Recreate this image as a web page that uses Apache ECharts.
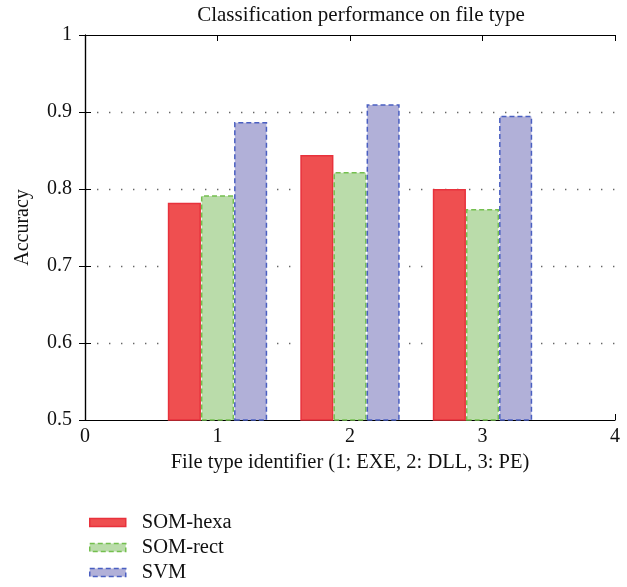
<!DOCTYPE html>
<html>
<head>
<meta charset="utf-8">
<script src="https://cdn.jsdelivr.net/npm/echarts@6/dist/echarts.min.js"></script>
<style>
  html, body { margin: 0; padding: 0; background: #fff; }
  #chart { width: 627px; height: 587px; }
</style>
</head>
<body>
<div id="chart"></div>
<script>
// File type identifiers (1: EXE, 2: DLL, 3: PE)
const fileTypes = [1, 2, 3];
const seriesNames = ['SOM-hexa', 'SOM-rect', 'SVM'];
const somHexa = [0.782, 0.844, 0.800];
const somRect = [0.792, 0.822, 0.774];
const svm = [0.887, 0.910, 0.895];
const xTicks = [0, 1, 2, 3, 4];
const yTicks = [0.5, 0.6, 0.7, 0.8, 0.9, 1];

const FONT = '"Liberation Serif", "DejaVu Serif", serif';

const styles = [
  { color: '#ef4f50', borderColor: '#e8323c', borderType: 'solid' },
  { color: '#badcaa', borderColor: '#74bf4f', borderType: [5, 3] },
  { color: '#b1b0d8', borderColor: '#4a5fc1', borderType: [5, 3] }
];

const values = [somHexa, somRect, svm];

const series = seriesNames.map((name, i) => ({
  name: name,
  type: 'bar',
  barWidth: '25%',
  barGap: '0%',
  data: fileTypes.map((x, j) => [x, values[i][j]]),
  itemStyle: {
    color: styles[i].color,
    borderColor: styles[i].borderColor,
    borderWidth: 1.5,
    borderType: styles[i].borderType
  },
  emphasis: { disabled: true },
  z: 3
}));

const legendData = seriesNames.map((name, i) => ({
  name: name,
  itemStyle: {
    color: styles[i].color,
    borderColor: styles[i].borderColor,
    borderWidth: 1.5,
    borderType: styles[i].borderType
  }
}));

const chart = echarts.init(document.getElementById('chart'), null, { renderer: 'canvas' });

const xCommon = {
  type: 'value',
  min: xTicks[0],
  max: xTicks[xTicks.length - 1],
  interval: 1,
  axisLine: { show: true, lineStyle: { color: '#000', width: 1.2 } },
  axisTick: { show: true, inside: true, length: 6, lineStyle: { color: '#000' } },
  splitLine: { show: false }
};
const yCommon = {
  type: 'value',
  min: yTicks[0],
  max: yTicks[yTicks.length - 1],
  interval: 0.1,
  axisLine: { show: true, lineStyle: { color: '#000', width: 1.2 } },
  axisTick: { show: true, inside: true, length: 6, lineStyle: { color: '#000' } }
};

chart.setOption({
  animation: false,
  backgroundColor: '#fff',
  title: {
    text: 'Classification performance on file type',
    left: 356,
    textAlign: 'center',
    top: 0,
    textStyle: { fontFamily: FONT, fontSize: 21, fontWeight: 'normal', color: '#111' }
  },
  grid: { left: 85, right: 12, top: 35, bottom: 167, containLabel: false },
  legend: {
    orient: 'vertical',
    left: 89,
    top: 512,
    padding: 0,
    itemWidth: 36,
    itemHeight: 8,
    itemGap: 4,
    icon: 'rect',
    textStyle: { fontFamily: FONT, fontSize: 20.5, lineHeight: 20.5, color: '#111', padding: [0, 0, 0, 11] },
    data: legendData
  },
  xAxis: [
    Object.assign({}, xCommon, {
      position: 'bottom',
      name: 'File type identifier (1: EXE, 2: DLL, 3: PE)',
      nameLocation: 'middle',
      nameGap: 32,
      nameTextStyle: { fontFamily: FONT, fontSize: 20.5, color: '#111' },
      axisLabel: { show: true, fontFamily: FONT, fontSize: 20, color: '#111', margin: 7,
        formatter: v => String(v) }
    }),
    Object.assign({}, xCommon, {
      position: 'top',
      axisLabel: { show: false }
    })
  ],
  yAxis: [
    Object.assign({}, yCommon, {
      position: 'left',
      name: 'Accuracy',
      nameLocation: 'middle',
      nameGap: 52,
      nameRotate: 90,
      nameTextStyle: { fontFamily: FONT, fontSize: 20, color: '#111' },
      axisLabel: { show: true, fontFamily: FONT, fontSize: 20, color: '#111', margin: 13,
        formatter: v => String(Math.round(v * 10) / 10) },
      splitLine: {
        show: true,
        showMinLine: false,
        showMaxLine: false,
        lineStyle: { color: '#666', width: 1.4, type: [1.4, 10.6] }
      }
    }),
    Object.assign({}, yCommon, {
      position: 'right',
      axisLabel: { show: false },
      splitLine: { show: false }
    })
  ],
  series: series
});
</script>
</body>
</html>
